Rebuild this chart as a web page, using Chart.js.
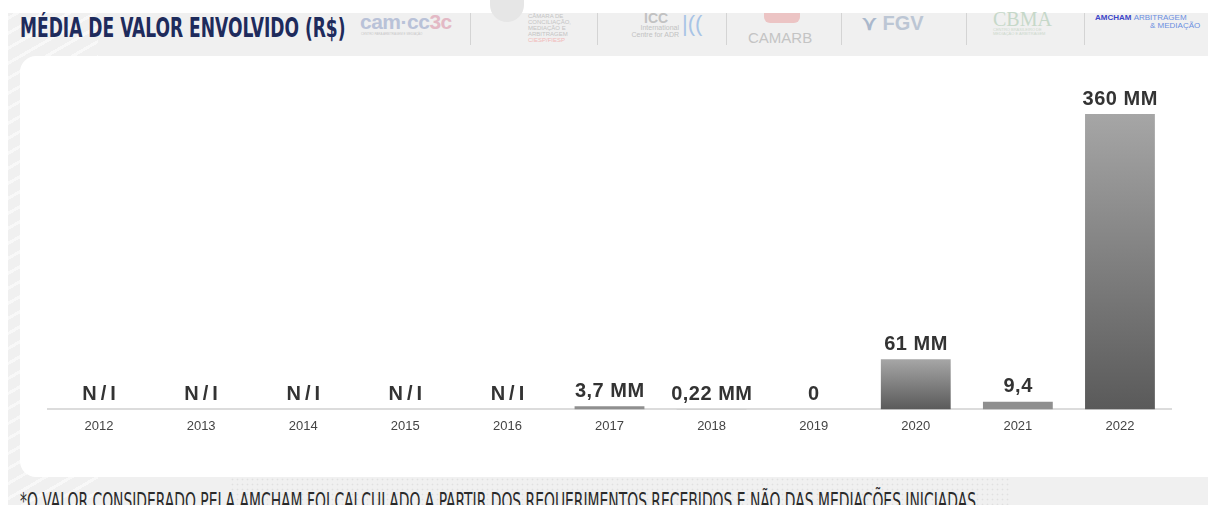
<!DOCTYPE html>
<html>
<head>
<meta charset="utf-8">
<script src="https://cdn.jsdelivr.net/npm/chart.js@4"></script>
<style>
  html,body{margin:0;padding:0;width:1208px;height:505px;overflow:hidden;background:#fff;}
  #bg{position:absolute;left:8px;top:13px;right:0;bottom:0;background:#f0f0f0;}
  #stripes{position:absolute;left:8px;top:13px;width:90px;height:492px;
    background-image:repeating-linear-gradient(-30deg, rgba(255,255,255,0) 0px, rgba(255,255,255,0) 10px, rgba(255,255,255,0.55) 10px, rgba(255,255,255,0.55) 13px);}
  #dots{position:absolute;left:230px;top:452px;width:780px;height:53px;
    background-image:radial-gradient(circle, rgba(205,205,205,0.45) 0.8px, transparent 1.1px);background-size:5px 5px;}
  #card{position:absolute;left:20px;top:56px;width:1210px;height:421px;background:#fff;border-radius:16px;}
  #chartwrap{position:absolute;left:20px;top:56px;width:1188px;height:421px;}
  #title{position:absolute;left:20px;top:13px;font-family:"Liberation Sans Narrow","DejaVu Sans Condensed",sans-serif;font-weight:bold;
    font-size:26px;color:#1e2b5c;white-space:nowrap;transform-origin:0 0;transform:scaleX(0.73);}
  #foot{position:absolute;left:20px;top:488px;font-family:"Liberation Sans Narrow","DejaVu Sans Condensed",sans-serif;
    font-size:23px;color:#2a2a2a;white-space:nowrap;transform-origin:0 0;transform:scaleX(0.671);}
  .logo{position:absolute;font-family:"Liberation Sans",sans-serif;white-space:nowrap;}
  .sep{position:absolute;top:13px;width:1px;height:32px;background:#d4d4d4;}
</style>
</head>
<body>
<div id="bg"></div>
<div id="stripes"></div>
<div id="dots"></div>
<div id="card"></div>

<div id="title">MÉDIA DE VALOR ENVOLVIDO (R$)</div>

<!-- faded partner logos (as text) -->
<div class="logo" style="left:360px;top:10px;font-size:21px;font-weight:bold;color:#b9c2d8;letter-spacing:-0.5px;">cam<span style="color:#b9c2d8">·</span>cc<span style="color:#e3b9c5">3c</span></div>
<div class="logo" style="left:361px;top:32px;font-size:3px;color:#c8c8c8;">CENTRO PARA ARBITRAGEM E MEDIAÇÃO</div>
<div class="sep" style="left:470px;"></div>
<div style="position:absolute;left:490px;top:0px;width:34px;height:22px;border-radius:0 0 17px 17px;background:#e6e6e6;"></div>
<div class="logo" style="left:528px;top:13px;font-size:6px;line-height:6px;color:#c4c4c4;">CÂMARA DE<br>CONCILIAÇÃO,<br>MEDIAÇÃO E<br>ARBITRAGEM<br><span style="color:#f0b8b8">CIESP/FIESP</span></div>
<div class="sep" style="left:597px;"></div>
<div class="logo" style="left:644px;top:10px;font-size:14px;font-weight:bold;color:#c2c2c2;">ICC</div>
<div class="logo" style="left:621px;top:24px;font-size:7px;line-height:7px;color:#c2c2c2;text-align:right;width:58px;">International<br>Centre for ADR</div>
<div class="logo" style="left:682px;top:11px;font-size:22px;color:#a8c4e6;">|((</div>
<div class="sep" style="left:726px;"></div>
<div style="position:absolute;left:764px;top:13px;width:36px;height:10px;background:#ecc4c4;border-radius:0 0 6px 6px;"></div>
<div class="logo" style="left:748px;top:29px;font-size:15px;color:#c4c4c4;">CAMARB</div>
<div class="sep" style="left:841px;"></div>
<div class="logo" style="left:862px;top:11px;font-size:20px;font-weight:bold;color:#bcc6d4;"><span style="color:#aab8cc;">⋎</span> FGV</div>
<div class="sep" style="left:966px;"></div>
<div class="logo" style="left:993px;top:8px;font-family:'Liberation Serif',serif;font-size:20px;color:#c6d8c9;">CBMA</div>
<div class="logo" style="left:993px;top:28px;font-size:4px;line-height:4px;color:#ccd8cc;">CENTRO BRASILEIRO DE<br>MEDIAÇÃO E ARBITRAGEM</div>
<div class="sep" style="left:1084px;"></div>
<div class="logo" style="left:1095px;top:13px;font-size:8px;font-weight:bold;color:#3c46c8;">AMCHAM <span style="font-weight:normal;color:#6a8ee0;">ARBITRAGEM</span></div>
<div class="logo" style="left:1150px;top:21px;font-size:8px;color:#6a8ee0;">&amp; MEDIAÇÃO</div>

<div id="chartwrap"><canvas id="c" width="1188" height="421"></canvas></div>

<div id="foot">*O VALOR CONSIDERADO PELA AMCHAM FOI CALCULADO A PARTIR DOS REQUERIMENTOS RECEBIDOS E NÃO DAS MEDIAÇÕES INICIADAS</div>

<script>
// ---- data ----
const years = ["2012","2013","2014","2015","2016","2017","2018","2019","2020","2021","2022"];
const valuesMM = [null, null, null, null, null, 3.7, 0.22, 0, 61, 9.4, 360];
const valueLabels = ["N/I","N/I","N/I","N/I","N/I","3,7 MM","0,22 MM","0","61 MM","9,4","360 MM"];
const yMax = 360;

// per-bar vertical gradient (light top -> dark bottom), computed from the y scale
function barFill(ctx) {
  const chart = ctx.chart;
  const ys = chart.scales && chart.scales.y;
  const v = ctx.raw;
  if (!ys || v == null || !chart.chartArea) return '#8c8c8c';
  const top = ys.getPixelForValue(v);
  const bot = ys.getPixelForValue(0);
  const h = bot - top;
  if (!isFinite(h) || h < 12) return '#8f8f8f';
  const g = chart.ctx.createLinearGradient(0, top, 0, bot);
  g.addColorStop(0, '#a6a6a6');
  g.addColorStop(1, '#5a5a5a');
  return g;
}

const valueLabelPlugin = {
  id: 'valueLabels',
  afterDatasetsDraw(chart) {
    const ctx = chart.ctx;
    const xs = chart.scales.x, ys = chart.scales.y;
    ctx.save();
    ctx.font = 'bold 20px "Liberation Sans", Arial, sans-serif';
    ctx.fillStyle = '#333333';
    ctx.textAlign = 'center';
    ctx.textBaseline = 'alphabetic';
    valueLabels.forEach((t, i) => {
      const v = valuesMM[i] == null ? 0 : valuesMM[i];
      const x = xs.getPixelForValue(i);
      const y = ys.getPixelForValue(v);
      ctx.letterSpacing = (t === 'N/I') ? '4px' : '0.5px';
      const shift = (t === 'N/I') ? 2 : 0.25;
      ctx.fillText(t, x + shift, y - 9.5);
    });
    ctx.restore();
  }
};

new Chart(document.getElementById('c'), {
  type: 'bar',
  data: {
    labels: years,
    datasets: [{
      data: valuesMM,
      backgroundColor: barFill,
      borderWidth: 0,
      barPercentage: 0.76,
      categoryPercentage: 0.9
    }]
  },
  options: {
    responsive: false,
    animation: false,
    events: [],
    layout: { padding: { left: 28, right: 37, top: 58, bottom: 34 } },
    plugins: { legend: { display: false }, tooltip: { enabled: false } },
    scales: {
      x: {
        grid: { display: false, drawTicks: false },
        border: { display: true, color: '#dcdcdc', width: 2 },
        ticks: { color: '#444', font: { family: '"Liberation Sans", Arial, sans-serif', size: 13 }, padding: 9 }
      },
      y: {
        display: false,
        min: 0,
        max: yMax
      }
    }
  },
  plugins: [valueLabelPlugin]
});
</script>
</body>
</html>
